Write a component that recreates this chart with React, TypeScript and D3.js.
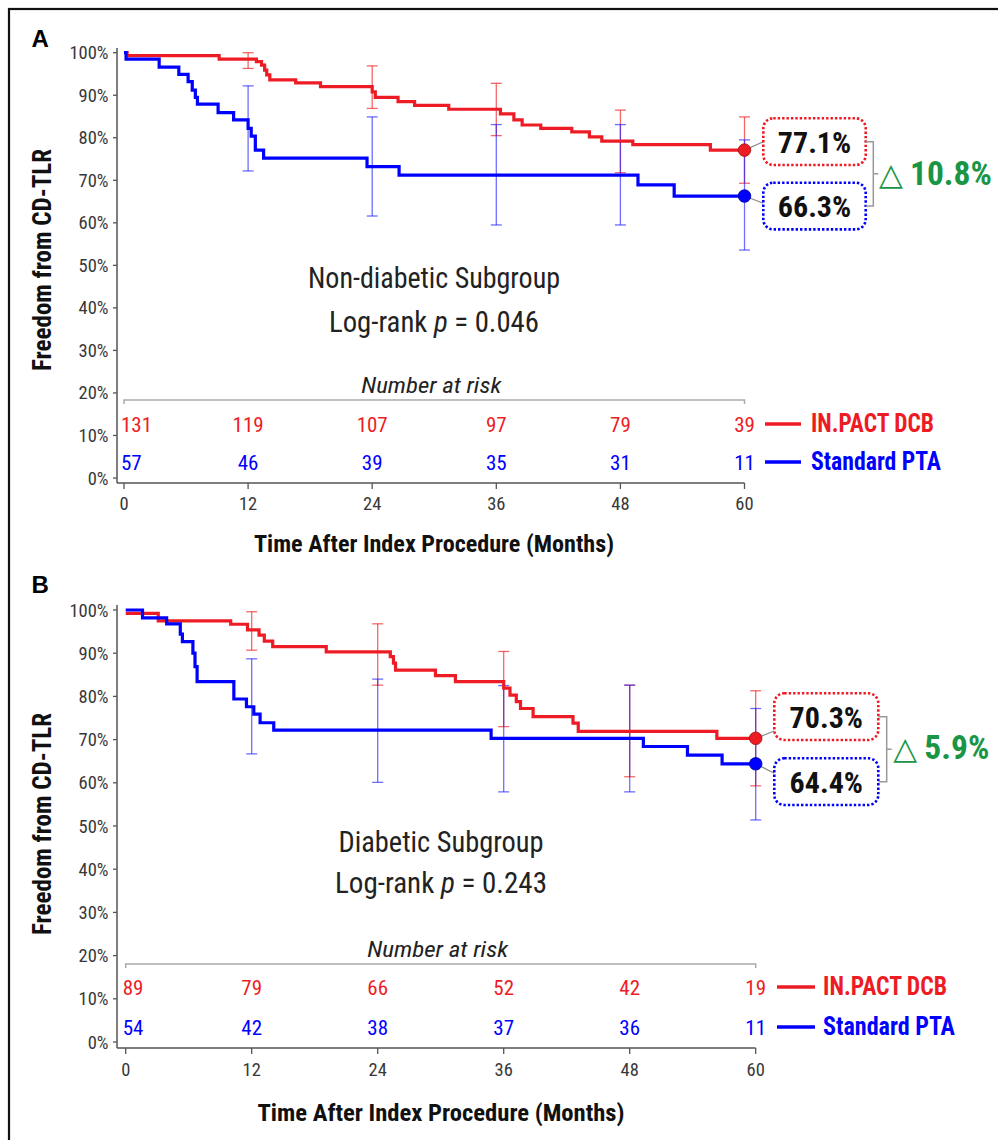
import React from 'react';
import * as d3 from 'd3';

// ---- data ----
const months = [0, 12, 24, 36, 48, 60];
const yTicks = [0, 10, 20, 30, 40, 50, 60, 70, 80, 90, 100];

// panel A: non-diabetic subgroup, [month, % free from CD-TLR]
const aDcbSteps: [number, number][] = [
  [0, 100], [0.3, 99.3], [9.2, 98.5], [12.8, 97.9], [13.3, 97.1], [13.6, 95.9], [13.8, 94.8],
  [14.1, 93.6], [16.6, 92.9], [19.0, 92.0], [24.0, 90.8], [24.3, 89.5], [26.5, 88.5], [28.1, 87.6],
  [31.4, 86.7], [36.4, 85.6], [37.7, 84.2], [38.5, 83.0], [40.3, 82.2], [43.3, 81.4], [45.0, 80.2],
  [46.2, 79.2], [49.2, 78.4], [56.7, 77.1],
];
const aPtaSteps: [number, number][] = [
  [0, 100], [0.2, 98.5], [3.4, 96.6], [5.3, 94.9], [6.2, 93.2], [6.6, 91.2], [6.9, 89.5], [7.1, 87.9],
  [9.1, 85.9], [10.6, 84.2], [12.0, 82.2], [12.3, 80.4], [12.7, 77.1], [13.5, 75.2], [23.5, 73.2],
  [26.6, 71.2], [49.7, 68.9], [53.2, 66.3],
];
// [month, lower, upper]
const aDcbErr: [number, number, number][] = [[12, 96.3, 100], [24, 86.9, 96.9], [36, 80.5, 92.8], [48, 71.8, 86.5], [60, 69.3, 84.9]];
const aPtaErr: [number, number, number][] = [[12, 72.2, 92.2], [24, 61.6, 84.9], [36, 59.5, 83.1], [48, 59.5, 83.1], [60, 53.6, 79.5]];
const aDcbRisk = [131, 119, 107, 97, 79, 39];
const aPtaRisk = [57, 46, 39, 35, 31, 11];
const aFinal = [77.1, 66.3];
const aDelta = 10.8;

// panel B: diabetic subgroup
const bDcbSteps: [number, number][] = [
  [0, 99.2], [3.1, 97.5], [10.0, 96.7], [11.6, 95.4], [12.7, 94.2], [13.2, 92.8], [14.0, 91.5],
  [19.1, 90.3], [25.2, 89.2], [25.5, 87.7], [25.7, 86.1], [29.5, 84.8], [31.4, 83.4], [36.0, 81.9],
  [36.6, 80.3], [37.2, 78.8], [37.6, 77.2], [38.8, 75.3], [42.6, 73.8], [43.1, 71.9], [56.3, 70.3],
];
const bPtaSteps: [number, number][] = [
  [0, 100], [1.6, 98.2], [3.9, 96.8], [5.2, 94.4], [5.4, 92.7], [6.4, 90.0], [6.6, 86.9], [6.8, 83.4],
  [10.3, 79.4], [11.5, 77.6], [12.2, 75.9], [12.8, 73.9], [14.1, 72.2], [34.8, 70.3], [49.3, 68.4],
  [53.5, 66.4], [56.8, 64.4],
];
const bDcbErr: [number, number, number][] = [[12, 90.7, 99.6], [24, 82.6, 96.8], [36, 73.0, 90.4], [48, 61.4, 82.6], [60, 59.3, 81.3]];
const bPtaErr: [number, number, number][] = [[12, 66.7, 88.7], [24, 60.1, 84.0], [36, 57.9, 82.5], [48, 57.9, 82.6], [60, 51.4, 77.2]];
const bDcbRisk = [89, 79, 66, 52, 42, 19];
const bPtaRisk = [54, 42, 38, 37, 36, 11];
const bFinal = [70.3, 64.4];
const bDelta = 5.9;

const seriesNames = ['IN.PACT DCB', 'Standard PTA'];

// ---- styling ----
const RED = '#ed1c24';
const BLUE = '#0000ff';
const GREEN = '#1a9546';
const COND = "'Roboto Condensed','Liberation Sans Narrow','DejaVu Sans Condensed','Arial Narrow',sans-serif";

const layoutA = {
  letter: 'A', letterY: 46.7,
  x0: 124, x1: 744.5, y0: 478, y100: 52.7, axisY: 483, yAxisTop: 48,
  cx: 434, titleY: 288.3, titleW: 252, rankY: 332, rankW: 210,
  riskTitleY: 393, bracketY: 400, row1: 432, row2: 470, tickY: 510, xTitleY: 552, xTitleW: 360,
  yLabelCy: 260,
  boxX: 763.3, boxW: 102.4, boxH: 46.7, box1: 118.3, box2: 182.7, conn: [141.7, 203.3],
  brX: 873.3, deltaX: 879, deltaY: 185,
  legX0: 765, legX1: 801, legTx: 811, legW: [123, 130], riskW: 140,
};
const layoutB = {
  letter: 'B', letterY: 592.7,
  x0: 125.7, x1: 755.7, y0: 1042, y100: 610, axisY: 1048, yAxisTop: 605,
  cx: 441, titleY: 851.7, titleW: 205, rankY: 893, rankW: 212,
  riskTitleY: 957, bracketY: 964, row1: 995, row2: 1035, tickY: 1076, xTitleY: 1121, xTitleW: 367,
  yLabelCy: 824,
  boxX: 774.3, boxW: 104, boxH: 46.7, box1: 693.3, box2: 758.3, conn: [731, 773.3],
  brX: 886.7, deltaX: 893.3, deltaY: 759.3,
  legX0: 777, legX1: 815, legTx: 823, legW: [124, 132], riskW: 141,
};

type Steps = [number, number][];
type Errs = [number, number, number][];

interface PanelProps {
  L: typeof layoutA;
  title: string;
  pval: string;
  steps: Steps[];
  errs: Errs[];
  risks: number[][];
  finals: number[];
  delta: number;
}

const Panel = ({ L, title, pval, steps, errs, risks, finals, delta }: PanelProps) => {
  const x = d3.scaleLinear().domain([0, 60]).range([L.x0, L.x1]);
  const y = d3.scaleLinear().domain([0, 100]).range([L.y0, L.y100]);
  const line = d3.line<[number, number]>().x(p => x(p[0])).y(p => y(p[1])).curve(d3.curveStepAfter);
  const colors = [RED, BLUE];
  const errColors = ['rgba(240,40,40,0.7)', 'rgba(30,30,255,0.65)'];
  const boxes = [L.box1, L.box2];
  const rows = [L.row1, L.row2];
  const mid1 = L.box1 + L.boxH / 2;
  const mid2 = L.box2 + L.boxH / 2;
  const boxR = L.boxX + L.boxW;

  return (
    <g>
      <text x={31.5} y={L.letterY} fontFamily="'Liberation Sans',Arial,sans-serif" fontWeight="bold" fontSize={24}>{L.letter}</text>

      {/* y axis */}
      <line x1={117} x2={117} y1={L.yAxisTop} y2={L.axisY} stroke="#555" strokeWidth={1.5} />
      {yTicks.map(t => (
        <g key={t}>
          <line x1={113} x2={117} y1={y(t)} y2={y(t)} stroke="#555" strokeWidth={1.3} />
          <text x={108.5} y={y(t) + 6.5} textAnchor="end" fontFamily={COND} fontSize={18.5} fill="#383838">{t}%</text>
        </g>
      ))}
      <text transform={`translate(50.5,${L.yLabelCy}) rotate(-90)`} textAnchor="middle" fontFamily={COND}
        fontWeight="bold" fontSize={25} textLength={222} lengthAdjust="spacingAndGlyphs" fill="#111">Freedom from CD-TLR</text>

      {/* x axis */}
      <line x1={117} x2={x(60)} y1={L.axisY} y2={L.axisY} stroke="#555" strokeWidth={1.5} />
      {months.map(m => (
        <g key={m}>
          <line x1={x(m)} x2={x(m)} y1={L.axisY} y2={L.axisY + 6} stroke="#555" strokeWidth={1.3} />
          <text x={x(m)} y={L.tickY} textAnchor="middle" fontFamily={COND} fontSize={18.5} fill="#383838">{m}</text>
        </g>
      ))}
      <text x={L.cx} y={L.xTitleY} textAnchor="middle" fontFamily={COND} fontWeight="bold" fontSize={24}
        textLength={L.xTitleW} lengthAdjust="spacingAndGlyphs" fill="#111">Time After Index Procedure (Months)</text>

      {/* subgroup + p value */}
      <text x={L.cx} y={L.titleY} textAnchor="middle" fontFamily={COND} fontSize={29}
        textLength={L.titleW} lengthAdjust="spacingAndGlyphs" fill="#222">{title}</text>
      <text x={L.cx} y={L.rankY} textAnchor="middle" fontFamily={COND} fontSize={29}
        textLength={L.rankW} lengthAdjust="spacingAndGlyphs" fill="#222">
        Log-rank <tspan fontStyle="italic">p</tspan> = {pval}
      </text>

      {/* number at risk */}
      <text x={(x(0) + x(60)) / 2 - 3} y={L.riskTitleY} textAnchor="middle" fontFamily={COND} fontStyle="italic"
        fontSize={22} textLength={L.riskW} lengthAdjust="spacingAndGlyphs" fill="#222">Number at risk</text>
      <path d={`M${x(0)},${L.bracketY + 4}V${L.bracketY}H${x(60)}V${L.bracketY + 4}`} fill="none" stroke="#aaa" strokeWidth={1.5} />
      {risks.map((r, si) => r.map((n, i) => (
        <text key={`${si}-${i}`} x={i === 0 ? x(0) - 3 : x(months[i])} y={rows[si]} textAnchor={i === 0 ? 'start' : 'middle'}
          fontFamily={COND} fontSize={21} fill={colors[si]}>{n}</text>
      )))}
      {seriesNames.map((s, si) => (
        <g key={s}>
          <line x1={L.legX0} x2={L.legX1} y1={rows[si] - 8} y2={rows[si] - 8} stroke={colors[si]} strokeWidth={3.5} />
          <text x={L.legTx} y={rows[si]} fontFamily={COND} fontWeight="bold" fontSize={25}
            textLength={L.legW[si]} lengthAdjust="spacingAndGlyphs" fill={colors[si]}>{s}</text>
        </g>
      ))}

      {/* error bars */}
      {errs.map((e, si) => e.map(([m, lo, hi]) => (
        <g key={`${si}-${m}`} stroke={errColors[si]} strokeWidth={1.3}>
          <line x1={x(m)} x2={x(m)} y1={y(lo)} y2={y(hi)} />
          <line x1={x(m) - 5.5} x2={x(m) + 5.5} y1={y(lo)} y2={y(lo)} />
          <line x1={x(m) - 5.5} x2={x(m) + 5.5} y1={y(hi)} y2={y(hi)} />
        </g>
      )))}

      {/* KM curves */}
      {steps.map((s, si) => (
        <path key={si} d={line([...s, [60, finals[si]]]) || ''} fill="none" stroke={colors[si]} strokeWidth={3.2} />
      ))}

      {/* end values */}
      {finals.map((f, si) => (
        <g key={si}>
          <line x1={x(60)} y1={y(f)} x2={L.boxX} y2={L.conn[si]} stroke="#888" strokeWidth={1.2} />
          <circle cx={x(60)} cy={y(f)} r={6.3} fill={colors[si]} stroke={si === 0 ? '#a01010' : '#0000a0'} strokeWidth={0.8} />
          <rect x={L.boxX} y={boxes[si]} width={L.boxW} height={L.boxH} rx={10} fill="#fff"
            stroke={colors[si]} strokeWidth={2.6} strokeDasharray="2.4 2" />
          <text x={L.boxX + L.boxW / 2} y={boxes[si] + 34.5} textAnchor="middle" fontFamily={COND} fontWeight="bold"
            fontSize={30} fill="#111">{f.toFixed(1)}%</text>
        </g>
      ))}
      <path d={`M${boxR},${mid1}H${L.brX}V${mid2}H${boxR}M${L.brX},${(mid1 + mid2) / 2}h5`} fill="none" stroke="#999" strokeWidth={1.5} />
      <text x={L.deltaX} y={L.deltaY} fontFamily="'DejaVu Sans',sans-serif" fontSize={31} fill={GREEN}>△</text>
      <text x={L.deltaX + 31} y={L.deltaY} fontFamily={COND} fontWeight="bold" fontSize={33.5} fill={GREEN}>{delta.toFixed(1)}%</text>
    </g>
  );
};

export default function App() {
  return (
    <div style={{ position: 'absolute', left: 0, top: 0 }}>
      <svg width={998} height={1140} style={{ display: 'block', background: '#fff' }}>
        <rect x={9} y={9} width={1100} height={1200} fill="none" stroke="#111" strokeWidth={2.2} />
        <Panel L={layoutA} title="Non-diabetic Subgroup" pval="0.046" steps={[aDcbSteps, aPtaSteps]}
          errs={[aDcbErr, aPtaErr]} risks={[aDcbRisk, aPtaRisk]} finals={aFinal} delta={aDelta} />
        <Panel L={layoutB} title="Diabetic Subgroup" pval="0.243" steps={[bDcbSteps, bPtaSteps]}
          errs={[bDcbErr, bPtaErr]} risks={[bDcbRisk, bPtaRisk]} finals={bFinal} delta={bDelta} />
      </svg>
    </div>
  );
}
